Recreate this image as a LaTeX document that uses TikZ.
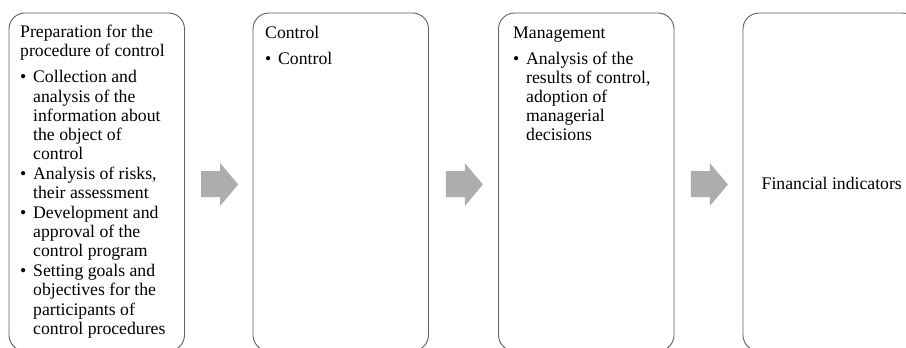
\documentclass[tikz,border=0pt]{standalone}
\usepackage{fontspec}
\setmainfont{Liberation Serif}
\usetikzlibrary{calc}

\definecolor{boxline}{HTML}{5F5F5F}
\definecolor{arrowgrey}{HTML}{ADADAD}

% text set inside the stage boxes; \\ keeps the hanging indent of a bullet
\newcommand{\stagefont}{\fontsize{17.7pt}{19.1pt}\selectfont}
\newcommand{\stageblock}[1]{%
  \parbox[t]{170pt}{\stagefont\parindent=0pt\parskip=0pt #1}}
\newcommand{\headgap}{\par\vspace{7pt}}
\newcommand{\itemgap}{\par\vspace{1pt}}
\newcommand{\bul}{\hangindent=13pt\hangafter=1\noindent\makebox[13pt][l]{\textbullet}}

\tikzset{
  stage/.style={draw=boxline, line width=0.9pt, rounded corners=16pt,
    minimum width=175.5pt, minimum height=338pt, inner sep=0pt,
    outer sep=0pt, anchor=north west},
  stagetext/.style={anchor=base west, inner sep=0pt, text=black},
  flowarrow/.style={fill=arrowgrey, draw=none},
}

\begin{document}
\begin{tikzpicture}[x=1pt, y=-1pt]
  \useasboundingbox (0,0) rectangle (906,348);

  % the four stages
  \node[stage] (b1) at (9,13) {};
  \node[stage] (b2) at (253,13) {};
  \node[stage] (b3) at (498.5,13) {};
  \node[stage] (b4) at (743,13) {};

  % stage contents
  \node[stagetext] (t1) at ($(b1.north west)+(11,24.7)$) {\stageblock{%
    Preparation for the\\procedure of control
    \headgap
    \bul Collection and\\analysis of the\\information about\\the object of\\control
    \itemgap
    \bul Analysis of risks,\\their assessment
    \itemgap
    \bul Development and\\approval of the\\control program
    \itemgap
    \bul Setting goals and\\objectives for the\\participants of\\control procedures}};

  \node[stagetext] (t2) at ($(b2.north west)+(12,25)$) {\stageblock{%
    Control
    \headgap
    \bul Control}};

  \node[stagetext] (t3) at ($(b3.north west)+(14.5,25)$) {\stageblock{%
    Management
    \headgap
    \bul Analysis of the\\results of control,\\adoption of\\managerial\\decisions}};

  \node[anchor=base, inner sep=0pt] (t4) at ($(b4.center)+(1,7)$)
    {\fontsize{17.7pt}{19.1pt}\selectfont Financial indicators};

  % block arrows between the stages
  \foreach \a/\b/\n in {b1/b2/1, b2/b3/2, b3/b4/3} {
    \coordinate (m\n) at ($(\a.east)!0.5!(\b.west)$);
    \fill[flowarrow, shift={(m\n)}]
      (-17.6,-11) -- (1.3,-11) -- (1.3,-19) -- (19.4,2.5)
      -- (1.3,24) -- (1.3,15) -- (-17.6,15) -- cycle;
  }
\end{tikzpicture}
\end{document}
